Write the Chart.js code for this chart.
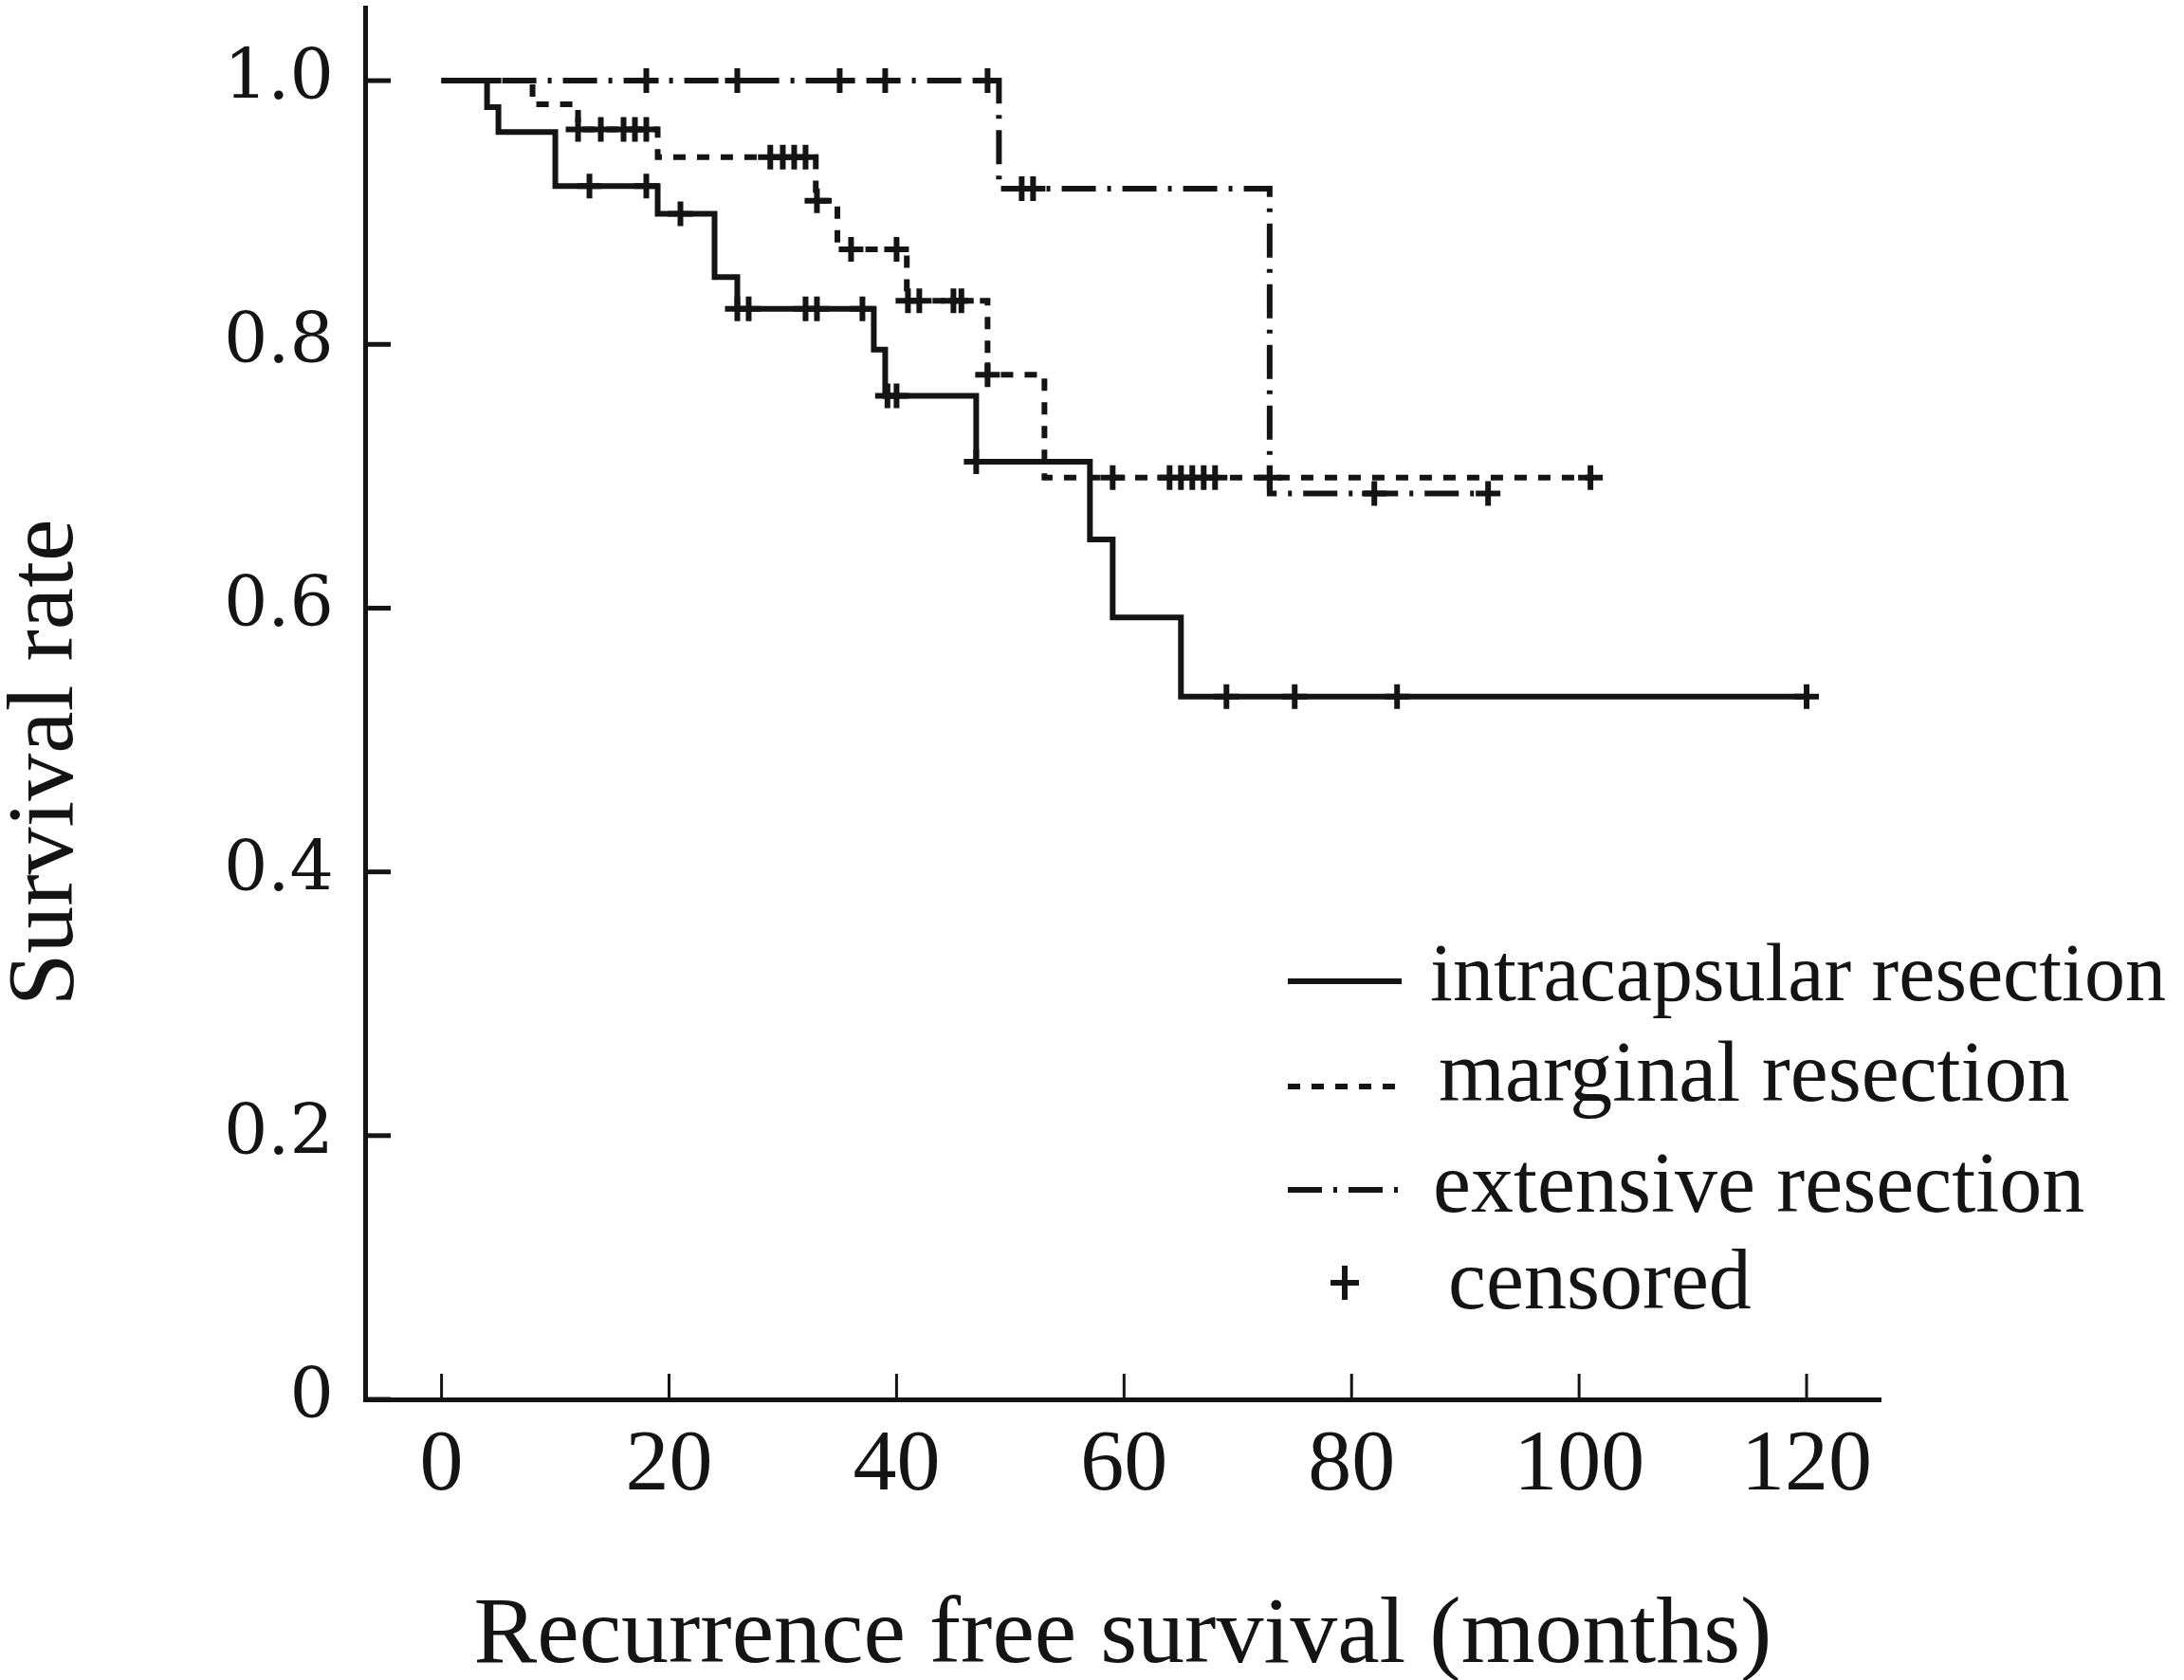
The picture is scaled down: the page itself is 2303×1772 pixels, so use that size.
<!DOCTYPE html>
<html>
<head>
<meta charset="utf-8">
<script src="https://cdn.jsdelivr.net/npm/chart.js@4.4.1/dist/chart.umd.min.js"></script>
<style>
  html, body { margin: 0; padding: 0; background: #fff; }
  canvas { display: block; }
</style>
</head>
<body>
<canvas id="kmChart" width="2303" height="1772"></canvas>
<script>
// step points: time (months) where the curve drops, and the new survival value
var intraTimes = [0, 4, 5, 10, 19, 24, 26, 38, 39, 47, 57, 59, 65, 120];
var intraSurv  = [1, 0.98, 0.961, 0.92, 0.899, 0.851, 0.827, 0.796, 0.761, 0.711, 0.652, 0.593, 0.533, 0.533];
var intraCensor = [13, 18, 21, 26, 27, 32, 33, 37, 39.2, 40, 47, 69, 75, 84, 120];

var margTimes = [0, 8, 12, 19, 32.9, 34.8, 40.9, 48, 53, 101];
var margSurv  = [1, 0.982, 0.963, 0.942, 0.909, 0.872, 0.833, 0.777, 0.699, 0.699];
var margCensor = [12, 14, 16, 17, 18, 28.9, 30, 31, 32, 33, 36, 40, 41, 42, 45, 45.7, 48, 59, 64, 65, 66, 67, 68, 72.8, 101];

var extTimes = [0, 49, 72.8, 92];
var extSurv  = [1, 0.918, 0.687, 0.687];
var extCensor = [18, 26, 35, 39, 48, 51, 52, 82, 92];

var xTickValues = [0, 20, 40, 60, 80, 100, 120];
var xTickLabels = ['0', '20', '40', '60', '80', '100', '120'];
var yTickValues = [0, 0.2, 0.4, 0.6, 0.8, 1.0];
var yTickLabels = ['0', '0.2', '0.4', '0.6', '0.8', '1.0'];

var groupNames = ['intracapsular resection', 'marginal resection', 'extensive resection'];
var censorName = 'censored';

var ink = '#141414';

function toPoints(times, surv) {
  return times.map(function(t, i) { return {x: t, y: surv[i]}; });
}

// survival value of the step curve at time t
function survAt(times, surv, t) {
  var v = surv[0];
  for (var i = 0; i < times.length; i++) {
    if (times[i] <= t) v = surv[i];
  }
  return v;
}

function censorPoints(times, surv, cens) {
  return cens.map(function(t) { return {x: t, y: survAt(times, surv, t)}; });
}

function stepSet(label, times, surv, dash) {
  return {
    label: label,
    data: toPoints(times, surv),
    borderColor: ink,
    borderWidth: 6,
    borderDash: dash,
    stepped: 'before',
    pointRadius: 0,
    fill: false
  };
}

function censorSet(times, surv, cens) {
  return {
    label: censorName,
    data: censorPoints(times, surv, cens),
    showLine: false,
    pointStyle: 'cross',
    pointRadius: 13,
    pointBorderWidth: 6,
    pointBorderColor: ink,
    borderColor: ink
  };
}

var inwardTicks = {
  id: 'inwardTicks',
  afterDraw: function(chart) {
    var ctx = chart.ctx;
    var area = chart.chartArea;
    var xs = chart.scales.x, ys = chart.scales.y;
    ctx.save();
    ctx.strokeStyle = ink;
    ctx.lineWidth = 5;
    ys.ticks.forEach(function(t) {
      var py = ys.getPixelForValue(t.value);
      ctx.beginPath();
      ctx.moveTo(area.left, py);
      ctx.lineTo(area.left + 27, py);
      ctx.stroke();
    });
    ctx.lineWidth = 3;
    xs.ticks.forEach(function(t) {
      var px = xs.getPixelForValue(t.value);
      ctx.beginPath();
      ctx.moveTo(px, area.bottom);
      ctx.lineTo(px, area.bottom - 27);
      ctx.stroke();
    });
    ctx.restore();
  }
};

var legendBox = {
  id: 'legendBox',
  afterDraw: function(chart) {
    var ctx = chart.ctx;
    var rows = [
      {ds: 0, lineY: 1035, textX: 1508, baseY: 1055, size: 86},
      {ds: 1, lineY: 1146, textX: 1517, baseY: 1161, size: 90},
      {ds: 2, lineY: 1255, textX: 1511, baseY: 1278, size: 90}
    ];
    ctx.save();
    ctx.strokeStyle = ink;
    ctx.fillStyle = ink;
    ctx.textBaseline = 'alphabetic';
    ctx.textAlign = 'left';
    rows.forEach(function(r) {
      var ds = chart.data.datasets[r.ds];
      ctx.lineWidth = 6;
      ctx.setLineDash(ds.borderDash || []);
      ctx.beginPath();
      ctx.moveTo(1358, r.lineY);
      ctx.lineTo(1478, r.lineY);
      ctx.stroke();
      ctx.setLineDash([]);
      ctx.font = r.size + 'px "Liberation Serif"';
      ctx.fillText(ds.label, r.textX, r.baseY);
    });
    // censored mark
    ctx.lineWidth = 6;
    ctx.beginPath();
    ctx.moveTo(1403, 1353);
    ctx.lineTo(1433, 1353);
    ctx.moveTo(1418, 1335);
    ctx.lineTo(1418, 1371);
    ctx.stroke();
    ctx.font = '90px "Liberation Serif"';
    ctx.fillText(censorName, 1527, 1380);
    ctx.restore();
  }
};

var ctx = document.getElementById('kmChart').getContext('2d');
var myChart = new Chart(ctx, {
  type: 'line',
  data: {
    datasets: [
      stepSet(groupNames[0], intraTimes, intraSurv, []),
      stepSet(groupNames[1], margTimes, margSurv, [13, 12]),
      stepSet(groupNames[2], extTimes, extSurv, [36, 12, 4, 12]),
      censorSet(intraTimes, intraSurv, intraCensor),
      censorSet(margTimes, margSurv, margCensor),
      censorSet(extTimes, extSurv, extCensor)
    ]
  },
  options: {
    responsive: false,
    devicePixelRatio: 1,
    animation: false,
    layout: { autoPadding: false, padding: { top: 8, right: 320, left: 0, bottom: 0 } },
    plugins: {
      legend: { display: false },
      tooltip: { enabled: false }
    },
    scales: {
      x: {
        type: 'linear',
        min: -6.72,
        max: 126.5,
        afterFit: function(scale) {
          scale.height = 296;
          scale.paddingLeft = 0;
          scale.paddingRight = 0;
        },
        afterBuildTicks: function(scale) {
          scale.ticks = xTickValues.map(function(v) { return {value: v}; });
        },
        grid: { display: true, drawOnChartArea: false, drawTicks: false },
        border: { display: true, color: ink, width: 5 },
        ticks: {
          padding: 16,
          color: ink,
          font: { family: 'Liberation Serif', size: 92, lineHeight: 1.2 },
          maxRotation: 0,
          autoSkip: false,
          callback: function(value, index) { return xTickLabels[index]; }
        },
        title: {
          display: true,
          text: 'Recurrence free survival (months)',
          color: ink,
          font: { family: 'Liberation Serif', size: 100, lineHeight: 0.9 },
          padding: { top: 0, bottom: 0 }
        }
      },
      y: {
        min: 0,
        max: 1.0554,
        afterFit: function(scale) {
          scale.width = 385;
          scale.paddingTop = 0;
          scale.paddingBottom = 0;
        },
        afterBuildTicks: function(scale) {
          scale.ticks = yTickValues.map(function(v) { return {value: v}; });
        },
        grid: { display: true, drawOnChartArea: false, drawTicks: false },
        border: { display: true, color: ink, width: 5 },
        ticks: {
          padding: 33,
          color: ink,
          font: { family: 'DejaVu Serif', size: 73, lineHeight: 0.3 },
          autoSkip: false,
          callback: function(value, index) { return yTickLabels[index]; }
        },
        title: {
          display: true,
          text: 'Survival rate     ',
          color: ink,
          font: { family: 'Liberation Serif', size: 100, lineHeight: 1 },
          padding: { top: 0, bottom: 0 }
        }
      }
    }
  },
  plugins: [inwardTicks, legendBox]
});
</script>
</body>
</html>
